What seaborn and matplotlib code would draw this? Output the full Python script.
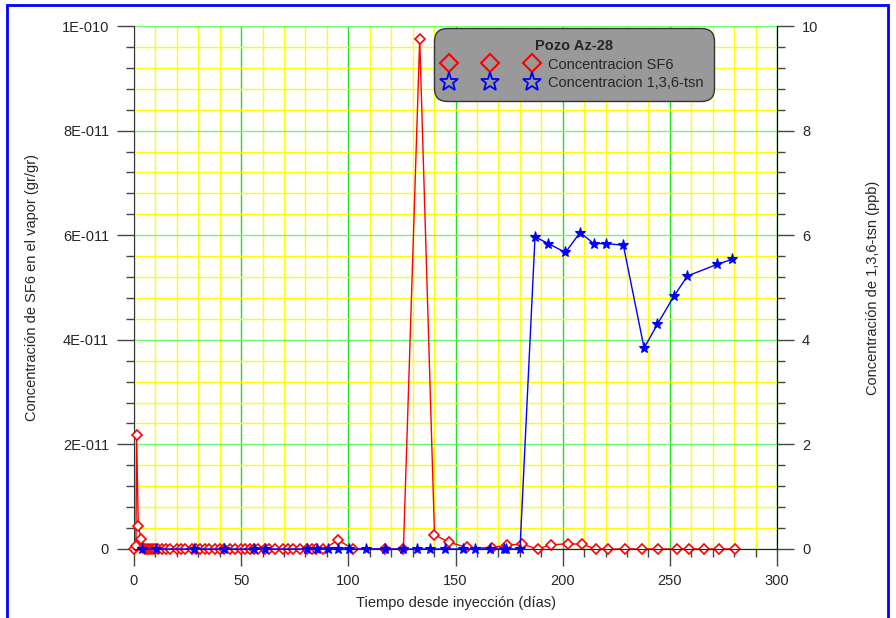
import numpy as np
import matplotlib
matplotlib.use("Agg")
import matplotlib.pyplot as plt
import seaborn as sns
from matplotlib.lines import Line2D
from matplotlib.patches import Rectangle
from matplotlib.ticker import MultipleLocator

# SF6 concentration (gr/gr) vs days since injection
sf6_days = [0, 0.9, 1.2, 2.0, 3.3, 4, 5, 6, 7, 8, 9, 10, 11, 13, 15, 17, 20, 22, 24, 27,
            29, 31, 33, 35, 38, 40, 42, 45, 47, 50, 52, 54, 56, 58, 61, 63, 66, 69.7,
            72, 74.3, 77.5, 80.6, 83, 85, 88.3, 95.3, 102.3, 117.0, 125.7, 133.3,
            140.2, 147.0, 155.3, 166.8, 174.0, 181.2, 188.3, 194.5, 202.3, 209.2,
            215.5, 221.3, 229.1, 237.2, 244.7, 253.2, 259.1, 266.1, 273.1, 280.4]
sf6_conc = [0, 0.05e-11, 2.18e-11, 0.44e-11, 0.2e-11, 0.02e-11, 0, 0, 0, 0, 0, 0, 0, 0, 0, 0, 0, 0, 0, 0,
            0, 0, 0, 0, 0, 0, 0, 0, 0, 0, 0, 0, 0, 0, 0, 0, 0, 0,
            0, 0, 0, 0, 0, 0, 0, 0.17e-11, 0, 0, 0, 9.75e-11,
            0.27e-11, 0.13e-11, 0.03e-11, 0.02e-11, 0.08e-11, 0.09e-11, 0, 0.08e-11, 0.1e-11, 0.09e-11,
            0, 0, 0, 0, 0, 0, 0, 0, 0, 0]

# 1,3,6-tsn concentration (ppb)
tsn_days = [3.6, 10.1, 28.1, 42.0, 56.0, 61.1, 80.6, 85.2, 90.7, 95.3, 100.3, 108.3,
            117.1, 125.7, 131.9, 138.1, 145.1, 153.4, 159.1, 166.1, 172.7, 173.5, 180.1,
            187.1, 193.3, 201.3, 208.1, 214.5, 220.1, 228.3, 238.0, 244.2, 252.0,
            258.2, 271.9, 279.2]
tsn_conc = [0, 0, 0, 0, 0, 0, 0, 0, 0, 0, 0, 0,
            0, 0, 0, 0, 0, 0, 0, 0, 0, 0, 0,
            5.97, 5.84, 5.67, 6.05, 5.84, 5.84, 5.81, 3.84, 4.30, 4.84,
            5.22, 5.44, 5.54]

left_ticks = [0, 2e-11, 4e-11, 6e-11, 8e-11, 1e-10]
left_tick_labels = ["0", "2E-011", "4E-011", "6E-011", "8E-011", "1E-010"]
right_ticks = [0, 2, 4, 6, 8, 10]
x_ticks = [0, 50, 100, 150, 200, 250, 300]

sns.set_style("white")
plt.rcParams['font.family'] = ['Liberation Sans', 'DejaVu Sans']
plt.rcParams['font.size'] = 10

fig = plt.figure(figsize=(8.96, 6.18), dpi=100)
ax = fig.add_axes([134 / 896, 1 - 549 / 618, 643 / 896, 523 / 618])

sns.lineplot(x=sf6_days, y=sf6_conc, ax=ax, color='red', lw=1, marker='D',
             markersize=5.5, markerfacecolor='white', markeredgecolor='red',
             markeredgewidth=1.2, estimator=None, sort=False, clip_on=False, zorder=3)

ax.set_xlim(0, 300)
ax.set_ylim(0, 1e-10)
ax.set_xticks(x_ticks)
ax.set_xticklabels([str(t) for t in x_ticks])
ax.set_yticks(left_ticks)
ax.set_yticklabels(left_tick_labels)
ax.xaxis.set_minor_locator(MultipleLocator(10))
ax.yaxis.set_minor_locator(MultipleLocator(0.4e-11))
ax.set_axisbelow(True)
ax.xaxis.grid(True, which='major', color='#22e022', lw=1)
ax.yaxis.grid(True, which='major', color='#70f870', lw=1)
ax.grid(True, which='minor', color='#ffff00', lw=1)
ax.tick_params(which='major', direction='out', length=12, width=1, color='#444444',
               left=True, bottom=True, pad=6, labelsize=10.5)
ax.tick_params(which='minor', direction='out', length=6, width=1, color='#444444',
               left=True, bottom=True)
ax.spines['top'].set_visible(False)
ax.spines['left'].set_color('#333333')
ax.spines['bottom'].set_color('black')
ax.set_xlabel("Tiempo desde inyección (días)", fontsize=10.5, labelpad=6)
ax.set_ylabel("Concentración de SF6 en el vapor (gr/gr)", fontsize=10.5, labelpad=16)

ax2 = ax.twinx()
sns.lineplot(x=tsn_days, y=tsn_conc, ax=ax2, color='blue', lw=1, marker='*',
             markersize=8, markerfacecolor='blue', markeredgecolor='blue',
             markeredgewidth=0.8, estimator=None, sort=False, clip_on=False, zorder=4)
ax2.set_ylim(0, 10)
ax2.set_yticks(right_ticks)
ax2.set_yticklabels([str(t) for t in right_ticks])
ax2.yaxis.set_minor_locator(MultipleLocator(0.4))
ax2.tick_params(which='major', direction='out', length=12, width=1, color='#444444',
                right=True, pad=6, labelsize=10.5)
ax2.tick_params(which='minor', direction='out', length=6, width=1, color='#444444', right=True)
ax2.spines['top'].set_visible(False)
ax2.spines['left'].set_visible(False)
ax2.spines['right'].set_color('black')
ax2.set_ylabel("Concentración de 1,3,6-tsn (ppb)", fontsize=10.5, labelpad=34)
ax2.grid(False)

handles = [
    Line2D([], [], linestyle='none', marker='D', markersize=9, markerfacecolor='none',
           markeredgecolor='red', markeredgewidth=1.5, label='Concentracion SF6'),
    Line2D([], [], linestyle='none', marker='*', markersize=14, markerfacecolor='none',
           markeredgecolor='blue', markeredgewidth=1.3, label='Concentracion 1,3,6-tsn'),
]
leg = ax2.legend(handles=handles, title='Pozo Az-28', numpoints=3, handlelength=6.3,
                 loc='upper left', bbox_to_anchor=(0.459, 1.004), fontsize=10.5,
                 title_fontsize=10.5, fancybox=True, framealpha=1, facecolor='#999999',
                 edgecolor='#333333', borderpad=0.55, labelspacing=0.3, handletextpad=0.8)
leg.get_title().set_fontweight('bold')
leg.get_frame().set_linewidth(1)
leg.get_frame().set_boxstyle('round', pad=0.2, rounding_size=0.9)

fig.patches.append(Rectangle((7 / 896, -0.05), 881 / 896, 1.05 - 5 / 618,
                             transform=fig.transFigure, fill=False,
                             edgecolor='blue', lw=2))

fig.savefig("out.png", dpi=100, facecolor='white')
